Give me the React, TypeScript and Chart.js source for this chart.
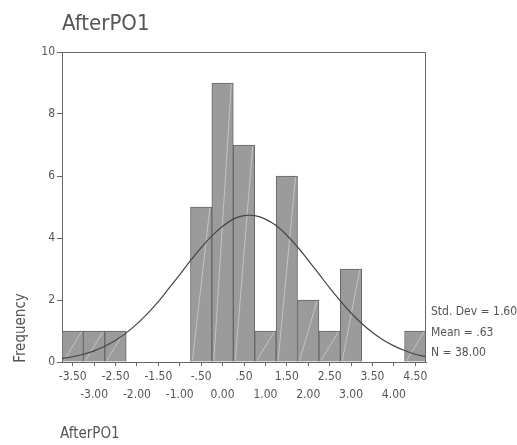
import { useEffect, useRef } from 'react';
import { Chart, registerables } from 'chart.js';

Chart.register(...registerables);

const chartTitle = 'AfterPO1';
const xAxisTitle = 'AfterPO1';
const yAxisTitle = 'Frequency';

const binCenters = [-3.5, -3.0, -2.5, -2.0, -1.5, -1.0, -0.5, 0.0, 0.5, 1.0, 1.5, 2.0, 2.5, 3.0, 3.5, 4.0, 4.5];
const frequencies = [1, 1, 1, 0, 0, 0, 5, 9, 7, 1, 6, 2, 1, 3, 0, 0, 1];

const curveX = [-3.75, -3.5, -3.25, -3.0, -2.75, -2.5, -2.25, -2.0, -1.75, -1.5, -1.25, -1.0, -0.75, -0.5, -0.25, 0.0, 0.25, 0.5, 0.75, 1.0, 1.25, 1.5, 1.75, 2.0, 2.25, 2.5, 2.75, 3.0, 3.25, 3.5, 3.75, 4.0, 4.25, 4.5, 4.75];
const curveY = [0.11, 0.17, 0.25, 0.36, 0.51, 0.70, 0.94, 1.23, 1.57, 1.95, 2.38, 2.82, 3.27, 3.69, 4.07, 4.38, 4.61, 4.72, 4.72, 4.61, 4.40, 4.09, 3.71, 3.28, 2.84, 2.39, 1.97, 1.58, 1.24, 0.95, 0.71, 0.52, 0.37, 0.25, 0.17];

const xTickValues = [-3.5, -3.0, -2.5, -2.0, -1.5, -1.0, -0.5, 0.0, 0.5, 1.0, 1.5, 2.0, 2.5, 3.0, 3.5, 4.0, 4.5];
const xTickLabels = ['-3.50', '-3.00', '-2.50', '-2.00', '-1.50', '-1.00', '-.50', '0.00', '.50', '1.00', '1.50', '2.00', '2.50', '3.00', '3.50', '4.00', '4.50'];
const yTickValues = [0, 2, 4, 6, 8, 10];
const statsLines = ['Std. Dev = 1.60', 'Mean = .63', 'N = 38.00'];

const FONT = '"DejaVu Sans Condensed", "DejaVu Sans", sans-serif';
const TEXT = '#555555';
const AXIS = '#666666';

export default function App() {
  const ref = useRef<HTMLCanvasElement | null>(null);

  useEffect(() => {
    if (!ref.current) return;

    const decor = {
      id: 'decor',
      afterDatasetDraw(chart: any, args: any) {
        if (args.index !== 1) return;
        const ctx = chart.ctx;
        const meta = chart.getDatasetMeta(1);
        ctx.save();
        ctx.strokeStyle = 'rgba(255,255,255,0.4)';
        ctx.lineWidth = 1;
        meta.data.forEach((bar: any) => {
          const p = bar.getProps(['x', 'y', 'base', 'width'], true);
          if (Math.abs(p.base - p.y) < 2) return;
          const l = p.x - p.width / 2 + 2;
          const r = p.x + p.width / 2 - 2;
          ctx.beginPath();
          ctx.moveTo(l, p.base - 1);
          ctx.lineTo(r, p.y + 1);
          ctx.stroke();
        });
        ctx.restore();
      },
      afterDraw(chart: any) {
        const ctx = chart.ctx;
        const a = chart.chartArea;
        ctx.save();
        ctx.strokeStyle = AXIS;
        ctx.lineWidth = 1;
        ctx.beginPath();
        ctx.moveTo(Math.round(a.left) + 0.5, Math.round(a.top) + 0.5);
        ctx.lineTo(Math.round(a.right) - 0.5, Math.round(a.top) + 0.5);
        ctx.lineTo(Math.round(a.right) - 0.5, Math.round(a.bottom));
        ctx.stroke();

        ctx.fillStyle = TEXT;
        ctx.textBaseline = 'middle';
        ctx.textAlign = 'left';
        ctx.font = `22px ${FONT}`;
        ctx.fillText(chartTitle, 62, 24);

        ctx.font = `12px ${FONT}`;
        const ys = [312, 333, 353];
        statsLines.forEach((s, i) => ctx.fillText(s, a.right + 5, ys[i]));

        ctx.font = `15px ${FONT}`;
        ctx.fillText(xAxisTitle, 60, 434);

        ctx.save();
        ctx.translate(21, 328);
        ctx.rotate(-Math.PI / 2);
        ctx.textAlign = 'center';
        ctx.font = `15px ${FONT}`;
        ctx.fillText(yAxisTitle, 0, 0);
        ctx.restore();
        ctx.restore();
      },
    };

    const chart = new Chart(ref.current, {
      type: 'bar',
      data: {
        datasets: [
          {
            type: 'line',
            data: curveX.map((x, i) => ({ x, y: curveY[i] })),
            borderColor: '#444444',
            borderWidth: 1.2,
            pointRadius: 0,
            tension: 0.4,
            fill: false,
            order: 0,
          } as any,
          {
            type: 'bar',
            data: binCenters.map((x, i) => ({ x, y: frequencies[i] })),
            backgroundColor: '#9b9b9b',
            borderColor: '#666666',
            borderWidth: 1,
            barPercentage: 1,
            categoryPercentage: 1,
            order: 1,
          } as any,
        ],
      },
      options: {
        responsive: false,
        animation: false,
        devicePixelRatio: 1,
        layout: { padding: { top: 52, right: 91, left: 0, bottom: 0 } },
        plugins: {
          legend: { display: false },
          tooltip: { enabled: false },
          title: { display: false },
        },
        scales: {
          x: {
            type: 'linear',
            min: -3.75,
            max: 4.75,
            offset: false,
            afterBuildTicks: (scale: any) => {
              scale.ticks = xTickValues.map((v) => ({ value: v }));
            },
            afterFit: (scale: any) => {
              scale.height = 83;
            },
            ticks: {
              autoSkip: false,
              maxRotation: 0,
              minRotation: 0,
              padding: 2,
              color: TEXT,
              font: { family: FONT, size: 12, lineHeight: 1.5 },
              callback: (_v: any, i: number) => (i % 2 === 0 ? [xTickLabels[i], ''] : ['', xTickLabels[i]]),
            },
            grid: { display: true, drawOnChartArea: false, drawTicks: true, tickLength: 4, color: AXIS, offset: false },
            border: { display: true, color: AXIS },
          },
          y: {
            type: 'linear',
            min: 0,
            max: 10,
            afterBuildTicks: (scale: any) => {
              scale.ticks = yTickValues.map((v) => ({ value: v }));
            },
            afterFit: (scale: any) => {
              scale.width = 62;
            },
            ticks: {
              padding: 2,
              color: TEXT,
              font: { family: FONT, size: 12 },
              callback: (v: any) => String(v),
            },
            grid: { display: true, drawOnChartArea: false, drawTicks: true, tickLength: 5, color: AXIS },
            border: { display: true, color: AXIS },
          },
        },
      } as any,
      plugins: [decor],
    });

    return () => chart.destroy();
  }, []);

  return (
    <div style={{ position: 'fixed', left: 0, top: 0, width: 517, height: 445, background: '#ffffff' }}>
      <canvas ref={ref} width={517} height={445} style={{ width: 517, height: 445, display: 'block' }} />
    </div>
  );
}
